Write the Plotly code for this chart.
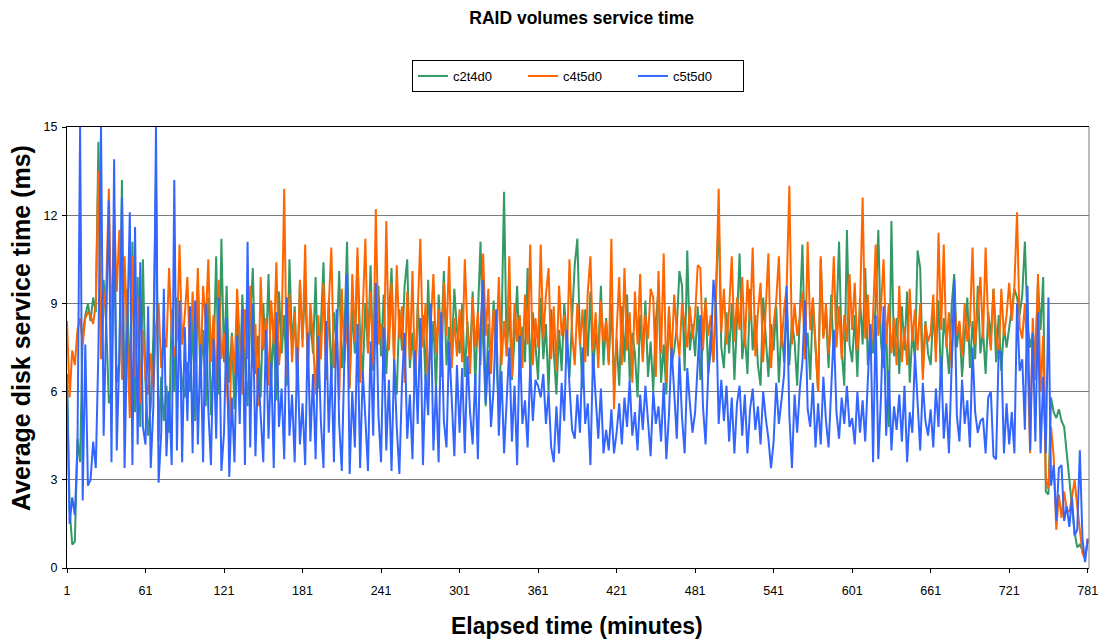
import plotly.graph_objects as go

minutes = list(range(1, 782, 2))

c2t4d0 = [
    6.6, 2.0, 0.8, 0.9, 4.4, 3.6, 8.0, 8.6, 9.0, 8.4, 9.2, 8.7, 14.5, 8.0, 9.8, 8.3, 5.6, 6.0, 11.0, 6.3, 7.0, 13.2, 5.2, 9.5, 6.0, 11.1, 5.3, 9.9, 4.8, 10.5,
    6.3, 4.5, 5.5, 7.9, 13.3, 4.3, 6.5, 5.0, 6.2, 4.6, 8.8, 6.0, 9.2, 7.3, 6.3, 5.8, 7.0, 6.0, 8.5, 5.0, 9.7, 6.4, 8.1, 5.5, 9.2, 5.2, 7.1, 10.6, 5.9, 11.2,
    7.0, 9.6, 6.3, 8.0, 5.4, 8.8, 6.1, 9.3, 7.0, 5.5, 8.4, 10.2, 6.6, 7.9, 5.8, 9.0, 7.2, 10.0, 6.4, 8.1, 5.7, 9.4, 7.3, 8.6, 6.2, 10.5, 7.5, 8.9, 6.5, 9.7,
    7.8, 9.6, 6.9, 8.5, 7.3, 9.9, 6.1, 8.2, 10.4, 7.0, 9.1, 6.4, 8.7, 7.6, 10.1, 6.8, 8.0, 11.1, 6.2, 8.8, 7.3, 10.6, 7.9, 6.5, 9.0, 7.4, 10.3, 6.7, 8.4, 9.6,
    7.2, 9.3, 6.6, 8.5, 10.2, 7.0, 5.9, 8.8, 7.4, 9.6, 10.5, 6.8, 8.0, 6.2, 9.0, 7.5, 8.6, 6.4, 9.8, 7.1, 8.4, 6.0, 9.3, 7.7, 10.1, 6.9, 8.2, 7.3, 9.5, 8.1,
    7.3, 9.0, 6.5, 8.4, 7.0, 9.4, 6.2, 8.6, 11.1, 7.7, 5.5, 8.3, 6.9, 9.1, 7.4, 5.2, 8.0, 12.8, 7.2, 8.9, 6.4, 7.8, 9.6, 6.8, 8.2, 7.0, 10.2, 6.5, 8.7, 7.6,
    6.4, 9.2, 7.1, 8.3, 6.0, 8.8, 7.4, 5.9, 8.1, 6.7, 9.0, 7.6, 6.5, 8.5, 10.3, 11.2, 7.8, 6.1, 8.8, 7.2, 9.4, 6.6, 8.0, 7.3, 9.6, 6.9, 8.5, 7.0, 9.0, 6.3,
    7.8, 6.2, 8.9, 7.0, 9.3, 6.4, 8.0, 7.3, 5.8, 8.6, 7.1, 9.1, 6.5, 7.7, 6.0, 8.4, 9.5, 6.3, 7.6, 5.9, 8.8, 6.9, 7.4, 8.2, 10.1, 9.6, 6.7, 10.8, 7.4, 8.3,
    7.2, 8.9, 6.4, 7.8, 9.2, 6.6, 8.1, 7.0, 9.4, 12.0, 7.5, 6.8, 8.7, 7.3, 9.0, 6.4, 8.4, 10.7, 7.1, 8.0, 6.6, 9.5, 7.4, 8.6, 6.9, 6.2, 9.2, 7.7, 6.5, 8.3,
    7.4, 8.9, 6.3, 8.2, 7.0, 9.0, 6.9, 8.4, 7.7, 6.2, 8.8, 11.0, 7.2, 8.0, 6.4, 9.1, 7.5, 6.0, 10.5, 7.9, 8.6, 6.8, 9.3, 7.1, 8.4, 11.1, 7.4, 6.2, 11.5, 7.6,
    7.0, 8.6, 6.5, 9.2, 7.6, 10.2, 6.9, 8.1, 7.3, 9.0, 11.5, 7.7, 6.8, 8.3, 4.8, 11.8, 7.2, 8.5, 6.6, 8.9, 7.4, 9.4, 6.3, 8.0, 7.1, 10.8, 10.2, 6.7, 8.4, 7.3,
    6.9, 8.7, 7.4, 9.1, 6.2, 8.5, 7.7, 6.6, 8.9, 10.0, 7.5, 8.3, 6.5, 7.9, 9.2, 6.8, 8.4, 7.1, 9.6, 7.3, 8.1, 6.6, 8.7, 7.8, 9.5, 7.0, 8.6, 6.7, 8.2, 7.5,
    8.2, 9.0, 9.5, 9.2, 8.6, 9.3, 11.1, 8.3, 7.5, 8.0, 7.3, 9.7, 8.1, 9.9, 2.6, 2.5, 5.8, 5.3, 5.1, 5.4, 5.0, 4.8, 3.9, 3.0, 1.9, 1.2, 0.7, 0.8, 0.6, 0.4, 0.9,
]

c4t5d0 = [
    8.4, 5.8, 7.4, 6.9, 8.1, 8.5, 7.6, 8.5, 8.7, 8.6, 8.3, 9.0, 13.5, 7.1, 8.9, 9.6, 12.9, 7.8, 12.2, 9.4, 11.5, 6.4, 10.6, 7.7, 5.1, 10.6, 6.5, 9.2, 5.6, 8.1,
    6.4, 5.9, 7.3, 6.1, 8.2, 9.0, 6.8, 7.9, 7.5, 10.2, 8.0, 7.2, 7.8, 11.0, 7.6, 8.6, 9.9, 7.0, 9.4, 7.4, 10.2, 6.6, 9.6, 8.3, 10.5, 7.0, 8.6, 6.0, 9.8, 7.1,
    8.0, 6.3, 4.6, 7.9, 6.6, 9.5, 7.7, 5.9, 8.8, 7.1, 9.6, 6.8, 8.3, 5.5, 9.9, 7.4, 8.5, 6.2, 9.1, 7.6, 10.4, 6.9, 8.0, 12.9, 6.5, 9.3, 7.0, 8.7, 6.0, 9.8,
    7.5, 11.0, 6.7, 9.0, 7.8, 5.9, 8.6, 7.1, 9.7, 6.4, 8.9, 10.9, 6.8, 8.2, 5.7, 9.5, 7.0, 8.4, 6.1, 10.0, 7.7, 10.9, 6.3, 8.6, 11.2, 7.3, 9.4, 6.9, 12.2, 7.6,
    8.3, 6.6, 11.8, 7.4, 9.7, 6.9, 10.3, 7.8, 8.9, 6.3, 9.4, 7.1, 10.1, 6.2, 8.6, 11.2, 7.5, 9.0, 5.9, 8.3, 10.0, 7.3, 8.8, 6.5, 9.7, 7.9, 10.6, 6.8, 8.5, 7.2,
    8.8, 7.0, 10.5, 8.1, 6.6, 9.2, 7.5, 8.7, 6.9, 10.7, 7.9, 9.5, 6.6, 8.8, 7.4, 9.9, 6.9, 8.4, 7.2, 10.6, 6.5, 9.0, 7.7, 8.6, 6.8, 9.3, 7.6, 11.0, 6.9, 8.5,
    7.5, 11.0, 7.8, 9.3, 10.2, 7.1, 8.9, 6.7, 9.6, 7.9, 8.6, 7.2, 10.5, 8.0, 6.9, 9.0, 7.6, 8.8, 7.0, 9.4, 10.6, 7.4, 8.7, 6.8, 9.1, 7.7, 8.4, 6.9, 11.2, 5.4,
    8.0, 9.9, 6.9, 10.2, 7.4, 8.7, 6.3, 9.4, 7.6, 10.0, 7.0, 8.6, 7.8, 9.5, 9.2, 6.5, 10.1, 7.3, 10.7, 6.3, 8.9, 7.1, 9.3, 8.0, 7.2, 9.0, 8.3, 7.5, 8.9, 7.8,
    8.6, 10.3, 10.2, 7.4, 9.1, 7.9, 8.6, 7.0, 9.3, 12.9, 8.0, 9.5, 7.6, 8.8, 10.6, 7.7, 9.2, 8.1, 9.9, 7.5, 9.8, 8.4, 10.9, 7.2, 8.7, 9.7, 7.0, 8.9, 10.7, 6.8,
    8.3, 9.1, 10.6, 7.5, 8.8, 9.6, 13.0, 7.6, 9.0, 7.9, 8.5, 9.4, 7.1, 11.1, 8.1, 9.2, 7.4, 6.0, 10.6, 7.8, 9.0, 7.3, 8.4, 10.6, 7.5, 8.9, 7.1, 8.6, 7.7, 10.0,
    8.1, 9.7, 7.4, 8.9, 12.6, 7.8, 9.3, 7.2, 8.6, 11.0, 7.9, 8.8, 10.5, 7.6, 9.0, 7.3, 8.5, 6.9, 9.6, 7.0, 8.2, 6.9, 9.5, 7.7, 8.8, 7.4, 9.0, 6.4, 8.3, 7.7,
    8.0, 9.3, 7.0, 11.4, 8.1, 11.0, 7.5, 8.7, 6.8, 9.2, 7.9, 8.4, 7.2, 9.0, 7.7, 8.3, 10.9, 7.6, 8.8, 9.9, 7.8, 10.9, 8.2, 7.4, 9.5, 8.0, 7.1, 9.5, 7.9, 8.6,
    9.7, 8.4, 9.6, 12.1, 8.2, 7.8, 9.0, 7.2, 3.9, 8.5, 6.4, 10.0, 6.0, 7.9, 3.0, 2.7, 4.8, 3.8, 1.3, 2.5, 1.7, 2.6, 2.0, 1.9, 2.4, 3.0, 2.1, 1.2, 0.5, 0.3, 1.0,
]

c5t5d0 = [
    6.2, 1.5, 2.4, 1.8, 4.1, 15.0, 2.3, 7.6, 2.8, 3.0, 4.3, 3.4, 7.4, 15.0, 4.5, 8.9, 12.5, 3.6, 13.9, 4.0, 7.2, 12.6, 3.4, 8.0, 12.1, 3.5, 11.6, 4.2, 10.4, 4.8,
    4.2, 8.9, 3.4, 5.5, 15.0, 2.9, 4.6, 9.5, 3.8, 6.0, 3.5, 13.2, 4.0, 9.1, 3.6, 8.2, 5.0, 8.9, 3.9, 9.1, 4.2, 7.6, 3.6, 9.0, 5.4, 3.5, 7.8, 4.4, 9.2, 3.3,
    4.6, 8.5, 3.1, 5.8, 3.6, 7.9, 4.9, 8.8, 3.5, 11.1, 4.1, 9.0, 3.8, 6.8, 5.2, 3.6, 8.1, 4.4, 7.0, 3.4, 8.7, 4.8, 6.1, 3.7, 9.2, 4.5, 5.9, 3.6, 7.5, 4.2,
    5.6, 3.5, 8.0, 4.3, 6.6, 3.7, 7.9, 5.0, 3.4, 8.4, 4.6, 6.9, 3.6, 8.8, 4.9, 3.3, 7.2, 10.0, 3.2, 6.0, 4.1, 8.3, 3.4, 6.7, 5.1, 3.3, 7.7, 4.5, 9.7, 5.2,
    3.6, 8.2, 4.0, 6.4, 3.3, 7.1, 4.8, 3.2, 6.3, 8.0, 4.4, 5.9, 3.7, 7.4, 4.9, 8.5, 3.5, 6.6, 5.2, 9.0, 4.0, 6.2, 3.6, 8.7, 5.0, 4.1, 7.7, 5.5, 3.8, 6.9,
    4.6, 6.8, 3.9, 7.2, 5.3, 4.2, 6.6, 3.7, 8.1, 9.8, 5.6, 7.4, 4.8, 6.1, 8.8, 4.5, 6.7, 3.9, 5.8, 7.5, 4.3, 6.2, 3.5, 7.9, 4.9, 5.7, 4.1, 6.9, 5.0, 6.4,
    6.2, 5.8, 6.6, 4.9, 6.0, 4.1, 3.6, 5.5, 3.9, 6.3, 5.0, 8.1, 6.2, 4.7, 4.4, 5.9, 4.6, 7.5, 4.9, 5.6, 3.5, 7.3, 5.8, 4.4, 6.1, 3.9, 4.7, 4.0, 5.4, 3.9,
    4.6, 5.6, 4.2, 5.8, 4.8, 6.4, 4.5, 5.3, 4.0, 5.9, 4.7, 6.2, 5.0, 3.8, 6.0, 4.9, 5.5, 4.3, 6.3, 3.7, 5.2, 7.5, 6.0, 4.4, 7.2, 5.1, 3.9, 6.8, 5.6, 4.6,
    5.3, 7.1, 8.6, 5.5, 4.2, 6.6, 7.4, 9.8, 8.8, 4.9, 6.4, 5.0, 6.2, 4.3, 5.8, 3.9, 5.6, 6.2, 4.5, 5.9, 3.9, 5.4, 6.1, 4.7, 5.5, 4.2, 6.0, 5.1, 4.4, 3.4,
    4.3, 6.3, 4.9, 5.7, 6.6, 9.6, 5.2, 3.4, 5.9, 4.6, 6.1, 7.0, 9.1, 5.4, 4.8, 6.3, 4.1, 5.6, 4.2, 6.5, 5.0, 4.1, 5.9, 8.1, 5.3, 4.4, 5.8, 4.9, 6.2, 4.8,
    5.1, 4.2, 6.0, 4.6, 5.7, 4.3, 6.4, 8.3, 3.6, 8.6, 3.7, 5.8, 8.9, 4.5, 6.7, 4.0, 5.5, 4.7, 5.9, 4.3, 6.2, 3.6, 5.3, 4.6, 7.3, 5.8, 4.0, 6.3, 5.0, 4.5,
    5.4, 4.1, 6.1, 4.8, 7.2, 4.4, 5.6, 3.9, 6.9, 9.8, 5.2, 4.3, 6.4, 4.9, 5.7, 4.1, 7.5, 5.3, 4.6, 5.0, 5.1, 3.9, 5.8, 6.0, 3.8, 3.7, 7.4, 7.3, 3.9, 5.6,
    4.2, 5.3, 3.9, 9.0, 6.7, 7.1, 4.7, 9.6, 4.0, 8.0, 4.3, 8.7, 3.9, 6.5, 3.9, 9.2, 2.8, 3.5, 1.6, 3.4, 3.5, 1.6, 2.1, 1.4, 2.4, 1.1, 1.3, 4.0, 1.0, 0.2, 1.0,
]

series_names = ["c2t4d0", "c4t5d0", "c5t5d0"]
series_colors = ["#339966", "#FF6600", "#3366FF"]
x_ticks = list(range(1, 782, 60))
y_ticks = [0, 3, 6, 9, 12, 15]

assert len(c2t4d0) == len(minutes), len(c2t4d0)
assert len(c4t5d0) == len(minutes), len(c4t5d0)
assert len(c5t5d0) == len(minutes), len(c5t5d0)

FONT = "Liberation Sans, Arial, Helvetica, sans-serif"

fig = go.Figure()
for name, vals, col in zip(series_names, [c2t4d0, c4t5d0, c5t5d0], series_colors):
    fig.add_trace(go.Scatter(x=minutes, y=vals, mode="lines", name=name,
                             line=dict(color=col, width=2)))

fig.update_layout(
    width=1110, height=642,
    margin=dict(l=67, r=21, t=127, b=74),
    paper_bgcolor="white", plot_bgcolor="white",
    font=dict(family=FONT, size=12, color="black"),
    title=dict(text="<b>RAID volumes service time</b>", x=0.524, xanchor="center",
               y=1 - 18 / 642, yanchor="middle", font=dict(size=17.5, family=FONT)),
    legend=dict(orientation="h", x=0.5, xanchor="center", y=(568 - 60) / 441, yanchor="top",
                bordercolor="black", borderwidth=1, bgcolor="white",
                font=dict(size=13, family=FONT), entrywidth=65, entrywidthmode="pixels"),
    showlegend=True,
)
fig.update_xaxes(range=[1, 782], tickvals=x_ticks, ticktext=[str(t) for t in x_ticks],
                 showgrid=False, zeroline=False, showline=True, linecolor="black", linewidth=1,
                 mirror=True, ticks="outside", ticklen=4, tickcolor="black",
                 ticklabelstandoff=7, tickfont=dict(size=12.5, family=FONT))
fig.update_yaxes(range=[0, 15], tickvals=y_ticks, showgrid=True, gridcolor="#7a7a7a", gridwidth=1,
                 zeroline=False, showline=True, linecolor="black", linewidth=1,
                 ticks="outside", ticklen=4, tickcolor="black",
                 ticklabelstandoff=2, tickfont=dict(size=12.5, family=FONT))
fig.add_shape(type="line", xref="paper", yref="paper", x0=1, x1=1, y0=0, y1=1,
              line=dict(color="#7a7a7a", width=1))
fig.add_annotation(text="<b>Elapsed time (minutes)</b>", xref="paper", yref="paper",
                   x=(577 - 67) / 1022, y=-(626 - 568) / 441, xanchor="center", yanchor="middle",
                   showarrow=False, font=dict(size=23, family=FONT))
fig.add_annotation(text="<b>Average disk service time (ms)</b>", xref="paper", yref="paper",
                   x=-(67 - 21) / 1022, y=(568 - 328) / 441, xanchor="center", yanchor="middle",
                   textangle=-90, showarrow=False, font=dict(size=25, family=FONT))

fig.write_html("out.html", config={"displayModeBar": False},
               post_script="document.body.style.margin='0';document.body.style.overflow='hidden';")
